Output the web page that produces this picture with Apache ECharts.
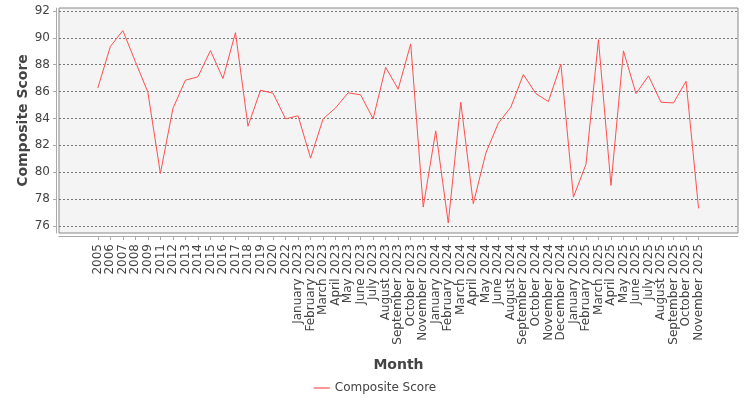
<!DOCTYPE html>
<html>
<head>
<meta charset="utf-8">
<script src="https://cdn.jsdelivr.net/npm/echarts@6/dist/echarts.min.js"></script>
<style>
  html, body { margin: 0; padding: 0; background: #fff; }
  #chart { width: 750px; height: 400px; }
</style>
</head>
<body>
<div id="chart"></div>
<script>
// Composite score per month.
const months = [
  "2005", "2006", "2007", "2008", "2009", "2011", "2012", "2013", "2014",
  "2015", "2016", "2017", "2018", "2019", "2020", "2022",
  "January 2023", "February 2023", "March 2023", "April 2023", "May 2023",
  "June 2023", "July 2023", "August 2023", "September 2023", "October 2023",
  "November 2023", "January 2024", "February 2024", "March 2024", "April 2024",
  "May 2024", "June 2024", "August 2024", "September 2024", "October 2024",
  "November 2024", "December 2024", "January 2025", "February 2025",
  "March 2025", "April 2025", "May 2025", "June 2025", "July 2025",
  "August 2025", "September 2025", "October 2025", "November 2025"
];
const scores = [
  86.26, 89.35, 90.54, 88.23, 85.96, 79.91, 84.74, 86.85, 87.1,
  89.05, 86.97, 90.39, 83.43, 86.1, 85.88, 83.97,
  84.2, 81.05, 83.97, 84.79, 85.91,
  85.76, 83.97, 87.81, 86.18, 89.55,
  77.41, 83.08, 76.22, 85.21, 77.66,
  81.42, 83.65, 84.84, 87.27, 85.85,
  85.26, 88.04, 78.15, 80.58,
  89.87, 79.02, 89.03, 85.85, 87.17,
  85.21, 85.16, 86.77, 77.31
];
const yTicks = [76, 78, 80, 82, 84, 86, 88, 90, 92];

const FONT = "DejaVu Sans";
const idx = months.map((_, i) => i);

const chart = echarts.init(document.getElementById("chart"), null, { renderer: "canvas" });
chart.setOption({
  animation: false,
  textStyle: { fontFamily: FONT },
  grid: {
    left: 59, right: 12, top: 8, bottom: 167,
    show: true,
    backgroundColor: "#f4f4f4",
    borderColor: "#888",
    borderWidth: 1
  },
  legend: {
    bottom: 1,
    left: "center",
    icon: "path://M0,0 L16,0 L16,1.2 L0,1.2 Z",
    itemWidth: 16,
    itemHeight: 2,
    textStyle: { color: "#444", fontSize: 12, fontFamily: FONT },
    data: ["Composite Score"]
  },
  xAxis: {
    type: "value",
    min: -3.1,
    max: 51.15,
    offset: 3,
    name: "Month",
    nameLocation: "middle",
    nameGap: 122,
    nameMoveOverlap: false,
    nameTextStyle: { color: "#444", fontSize: 14, fontWeight: "bold", fontFamily: FONT },
    axisLine: { show: true, onZero: false, lineStyle: { color: "#aaa" } },
    axisTick: { show: true, length: 4, customValues: idx, lineStyle: { color: "#aaa" } },
    axisLabel: {
      customValues: idx,
      rotate: 90,
      margin: 8,
      color: "#444",
      fontSize: 12,
      fontFamily: FONT,
      formatter: (v) => months[v] || ""
    },
    splitLine: { show: false }
  },
  yAxis: {
    type: "value",
    min: 75.48,
    max: 92.22,
    offset: 3,
    name: "Composite Score",
    nameLocation: "middle",
    nameGap: 26,
    nameMoveOverlap: false,
    nameTextStyle: { color: "#444", fontSize: 14, fontWeight: "bold", fontFamily: FONT },
    axisLine: { show: true, onZero: false, lineStyle: { color: "#aaa" } },
    axisTick: { show: true, length: 3, customValues: yTicks, lineStyle: { color: "#aaa" } },
    axisLabel: {
      customValues: yTicks,
      margin: 6,
      color: "#444",
      fontSize: 12,
      fontFamily: FONT
    },
    splitLine: {
      show: true,
      lineStyle: { color: "#777", type: [2, 2], width: 1 }
    }
  },
  series: [
    {
      name: "Composite Score",
      type: "line",
      data: scores.map((v, i) => [i, v]),
      showSymbol: false,
      lineStyle: { color: "#ff5050", width: 1 },
      itemStyle: { color: "#ff5050" }
    }
  ]
});
</script>
</body>
</html>
